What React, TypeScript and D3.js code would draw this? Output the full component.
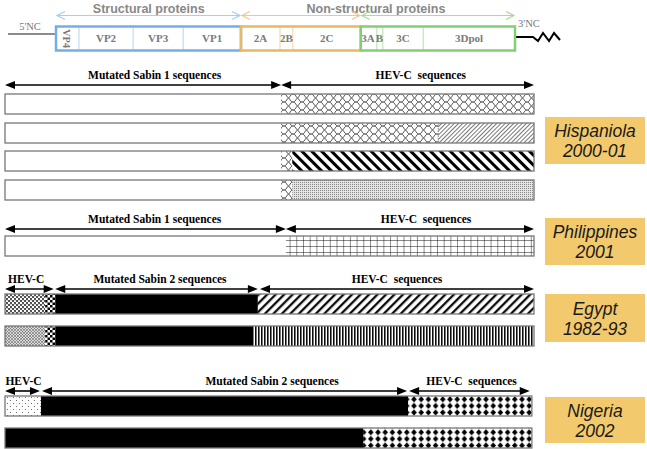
import React from "react";
import * as d3 from "d3";

// ---------- DATA ----------
// Genome map regions (percent of coding region)
const genomeRegions = [
  { name: "VP4", start: 0, end: 5.0, group: "S" },
  { name: "VP2", start: 5.0, end: 16.8, group: "S" },
  { name: "VP3", start: 16.8, end: 27.7, group: "S" },
  { name: "VP1", start: 27.7, end: 40.3, group: "S" },
  { name: "2A", start: 40.3, end: 48.8, group: "N" },
  { name: "2B", start: 48.8, end: 51.6, group: "N" },
  { name: "2C", start: 51.6, end: 66.4, group: "N" },
  { name: "3A", start: 66.4, end: 69.9, group: "G" },
  { name: "B", start: 69.9, end: 71.2, group: "G" },
  { name: "3C", start: 71.2, end: 80.0, group: "G" },
  { name: "3Dpol", start: 80.0, end: 100, group: "G" },
];
const genomeGroups = [
  { key: "S", start: 0, end: 40.3 },
  { key: "N", start: 40.3, end: 66.4 },
  { key: "G", start: 66.4, end: 100 },
];
const groupTitles = [
  { text: "Structural proteins", at: 20.2 },
  { text: "Non-structural proteins", at: 69.7 },
];
const groupColors: Record<string, { box: string; arrow: string; inner: string }> = {
  S: { box: "#74aee6", arrow: "#a9cdf0", inner: "#b5d3f0" },
  N: { box: "#e9b860", arrow: "#f0c78a", inner: "#f1d39a" },
  G: { box: "#84cf73", arrow: "#a8dc9c", inner: "#b3e0a8" },
};

// Recombinant genomes: segments (percent of genome length) and fill pattern
const rows = [
  { id: "h1", segs: [[0, 52.2, "white"], [52.2, 100, "wave"]] },
  { id: "h2", segs: [[0, 52.2, "white"], [52.2, 81.9, "wave"], [81.9, 100, "fineDiag"]] },
  { id: "h3", segs: [[0, 52.2, "white"], [52.2, 54.3, "wave"], [54.3, 100, "thickDiag"]] },
  { id: "h4", segs: [[0, 52.2, "white"], [52.2, 54.3, "wave"], [54.3, 100, "stipple"]] },
  { id: "p1", segs: [[0, 53.1, "white"], [53.1, 100, "grid"]] },
  { id: "e1", segs: [[0, 7.6, "dots"], [7.6, 9.5, "checker"], [9.5, 47.8, "black"], [47.8, 100, "fwdDiag"]] },
  { id: "e2", segs: [[0, 7.6, "crossFine"], [7.6, 9.5, "checker"], [9.5, 46.9, "black"], [46.9, 100, "vertical"]] },
  { id: "n1", segs: [[0, 6.8, "sparse"], [6.8, 76.2, "black"], [76.2, 99.6, "diamond"]] },
  { id: "n2", segs: [[0, 67.7, "black"], [67.7, 99.6, "diamond"]] },
];
const rowTops = [94, 123, 151, 180, 236, 294, 326, 396, 428];

// Annotation arrows over each outbreak block: [from, to, label, labelCenter]
const annotations = [
  { y: 85, spans: [[0, 52.2, "Mutated Sabin 1 sequences", 28.3], [52.2, 100, "HEV-C  sequences", 78.6]] },
  { y: 229, spans: [[0, 53.1, "Mutated Sabin 1 sequences", 28.3], [53.1, 100, "HEV-C  sequences", 79.6]] },
  { y: 289, spans: [[0, 9.2, "HEV-C", 4.0], [9.5, 47.8, "Mutated Sabin 2 sequences", 29.3], [48.2, 100, "HEV-C  sequences", 74.1]] },
  { y: 391, spans: [[0, 6.6, "HEV-C", 3.5], [7.0, 76.0, "Mutated Sabin 2 sequences", 50.5], [76.4, 99.2, "HEV-C  sequences", 88.2]] },
];

// Outbreak labels
const outbreaks = [
  { lines: ["Hispaniola", "2000-01"], top: 117, bottom: 164 },
  { lines: ["Philippines", "2001"], top: 218, bottom: 265 },
  { lines: ["Egypt", "1982-93"], top: 294, bottom: 342 },
  { lines: ["Nigeria", "2002"], top: 397, bottom: 443 },
];

// ---------- COMPONENT ----------
const W = 647;
const H = 449;

function Arrow({ x1, x2, y, color = "#000", open = false }: any) {
  const hl = 8, hw = 4;
  if (open) {
    return (
      <g stroke={color} fill="none" strokeWidth={1.2}>
        <line x1={x1} x2={x2} y1={y} y2={y} />
        <polyline points={`${x1 + hl},${y - hw} ${x1},${y} ${x1 + hl},${y + hw}`} />
        <polyline points={`${x2 - hl},${y - hw} ${x2},${y} ${x2 - hl},${y + hw}`} />
      </g>
    );
  }
  return (
    <g>
      <line x1={x1 + 4} x2={x2 - 4} y1={y} y2={y} stroke={color} strokeWidth={1.6} />
      <polygon points={`${x1},${y} ${x1 + hl + 2},${y - hw} ${x1 + hl + 2},${y + hw}`} fill={color} />
      <polygon points={`${x2},${y} ${x2 - hl - 2},${y - hw} ${x2 - hl - 2},${y + hw}`} fill={color} />
    </g>
  );
}

export default function App() {
  const gx = d3.scaleLinear().domain([0, 100]).range([56, 515]);
  const bx = d3.scaleLinear().domain([0, 100]).range([5, 534]);
  const barH = 20;
  const serif = "'Liberation Serif', 'Times New Roman', serif";
  const sans = "'Liberation Sans', Arial, sans-serif";

  const fillFor = (k: string) => (k === "white" ? "#fff" : k === "black" ? "#000" : `url(#p-${k})`);

  const zig = d3.line()([[515, 37], [533, 37], [538, 41], [543, 33], [549, 41], [554, 33], [560, 40]] as any);

  return (
    <svg width={W} height={H} style={{ position: "absolute", left: 0, top: 0, background: "#fff" }}>
      <defs>
        <pattern id="p-wave" patternUnits="userSpaceOnUse" width="9" height="8" x="5" y="94">
          <rect width="9" height="8" fill="#fff" />
          <path
            d="M0,0 C3,0 3,4 4.5,4 C6,4 6,8 9,8 M0,8 C3,8 3,4 4.5,4 C6,4 6,0 9,0"
            fill="none"
            stroke="#333"
            strokeWidth="0.8"
          />
        </pattern>
        <pattern id="p-fineDiag" patternUnits="userSpaceOnUse" width="3" height="3" patternTransform="rotate(45)">
          <rect width="3" height="3" fill="#fff" />
          <line x1="0.5" y1="0" x2="0.5" y2="3" stroke="#555" strokeWidth="0.8" />
        </pattern>
        <pattern id="p-thickDiag" patternUnits="userSpaceOnUse" width="7" height="7" patternTransform="rotate(-45)">
          <rect width="7" height="7" fill="#fff" />
          <line x1="1.5" y1="0" x2="1.5" y2="7" stroke="#000" strokeWidth="3" />
        </pattern>
        <pattern id="p-stipple" patternUnits="userSpaceOnUse" width="2" height="2">
          <rect width="2" height="2" fill="#e4e4e4" />
          <rect width="1" height="1" fill="#888" />
        </pattern>
        <pattern id="p-grid" patternUnits="userSpaceOnUse" width="6.7" height="6" x="1.5" y="0">
          <rect width="6.7" height="6" fill="#fff" />
          <path d="M0,0 V6 M0,0 H6.7" stroke="#000" strokeWidth="0.9" fill="none" />
        </pattern>
        <pattern id="p-dots" patternUnits="userSpaceOnUse" width="4" height="4">
          <rect width="4" height="4" fill="#fff" />
          <circle cx="1" cy="1" r="0.9" fill="#000" />
          <circle cx="3" cy="3" r="0.9" fill="#000" />
          <rect x="2.6" y="0.4" width="0.7" height="0.7" fill="#444" />
        </pattern>
        <pattern id="p-checker" patternUnits="userSpaceOnUse" width="5" height="5">
          <rect width="5" height="5" fill="#fff" />
          <rect width="2.5" height="2.5" fill="#000" />
          <rect x="2.5" y="2.5" width="2.5" height="2.5" fill="#000" />
        </pattern>
        <pattern id="p-fwdDiag" patternUnits="userSpaceOnUse" width="6" height="6" patternTransform="rotate(45)">
          <rect width="6" height="6" fill="#fff" />
          <line x1="1.2" y1="0" x2="1.2" y2="6" stroke="#000" strokeWidth="2.2" />
        </pattern>
        <pattern id="p-crossFine" patternUnits="userSpaceOnUse" width="3" height="3">
          <rect width="3" height="3" fill="#ddd" />
          <path d="M0,0 L3,3 M3,0 L0,3" stroke="#666" strokeWidth="0.6" />
        </pattern>
        <pattern id="p-vertical" patternUnits="userSpaceOnUse" width="3" height="3">
          <rect width="3" height="3" fill="#fff" />
          <line x1="0.8" y1="0" x2="0.8" y2="3" stroke="#000" strokeWidth="1.5" />
        </pattern>
        <pattern id="p-sparse" patternUnits="userSpaceOnUse" width="6" height="6">
          <rect width="6" height="6" fill="#fff" />
          <circle cx="1.5" cy="1.5" r="0.6" fill="#555" />
          <circle cx="4.5" cy="4.5" r="0.6" fill="#555" />
          <circle cx="4.5" cy="1.8" r="0.4" fill="#888" />
        </pattern>
        <pattern id="p-diamond" patternUnits="userSpaceOnUse" width="7.2" height="6.6" x="0" y="0">
          <rect width="7.2" height="6.6" fill="#fff" />
          <polygon points="3.6,0.3 6.4,3.3 3.6,6.3 0.8,3.3" fill="#000" />
        </pattern>
      </defs>

      {/* top titles */}
      {groupTitles.map((t) => (
        <text key={t.text} x={gx(t.at)} y={13} textAnchor="middle" fontFamily={sans} fontWeight="bold" fontSize={12.5} fill="#888">
          {t.text}
        </text>
      ))}
      {genomeGroups.map((g) => (
        <Arrow key={"a" + g.key} x1={gx(g.start) + 1} x2={gx(g.end) - 1} y={15.5} color={groupColors[g.key].arrow} open />
      ))}

      {/* 5'NC and 3'NC */}
      <line x1={8} x2={56} y1={34} y2={34} stroke="#666" strokeWidth={1.3} />
      <text x={30} y={30} textAnchor="middle" fontFamily={serif} fontSize={10.5} fill="#777">5'NC</text>
      <line x1={515} x2={533} y1={37} y2={37} stroke="#666" strokeWidth={1.1} />
      <path d={zig as string} fill="none" stroke="#000" strokeWidth={2} />
      <text x={518} y={27} fontFamily={serif} fontSize={10.5} fill="#777">3'NC</text>

      {/* genome boxes */}
      {genomeRegions.map((r, i) => {
        const next = genomeRegions[i + 1];
        const isBoundary = next && next.group !== r.group;
        return (
          <g key={r.name}>
            {next && !isBoundary && (
              <line x1={gx(r.end)} x2={gx(r.end)} y1={27} y2={50} stroke={groupColors[r.group].inner} strokeWidth={1} />
            )}
            {r.name === "VP4" ? (
              <text
                transform={`translate(${(gx(r.start) + gx(r.end)) / 2 - 4},${38.5}) rotate(90)`}
                textAnchor="middle"
                fontFamily={serif}
                fontWeight="bold"
                fontSize={10.5}
                fill="#7a7a7a"
              >
                VP4
              </text>
            ) : r.name === "3A" ? (
              <text x={gx(r.start) + 0.5} y={42} fontFamily={serif} fontWeight="bold" fontSize={11} fill="#7a7a7a">
                3A
              </text>
            ) : (
              <text
                x={r.name === "B" ? gx(r.start) + 2.5 : (gx(r.start) + gx(r.end)) / 2}
                y={42}
                textAnchor="middle"
                fontFamily={serif}
                fontWeight="bold"
                fontSize={11}
                fill="#7a7a7a"
              >
                {r.name}
              </text>
            )}
          </g>
        );
      })}
      {genomeGroups.map((g) => (
        <rect
          key={"b" + g.key}
          x={gx(g.start)}
          y={26.5}
          width={gx(g.end) - gx(g.start)}
          height={24}
          fill="none"
          stroke={groupColors[g.key].box}
          strokeWidth={2.5}
        />
      ))}

      {/* annotations */}
      {annotations.map((a, i) => (
        <g key={"ann" + i}>
          {a.spans.map((s: any, j: number) => (
            <g key={j}>
              <Arrow x1={bx(s[0])} x2={bx(s[1])} y={a.y} />
              <text
                x={bx(s[3])}
                y={a.y - 6}
                textAnchor="middle"
                fontFamily={serif}
                fontWeight="bold"
                fontSize={11.5}
                fill="#000"
                style={{ whiteSpace: "pre" }}
              >
                {s[2]}
              </text>
            </g>
          ))}
        </g>
      ))}

      {/* recombinant bars */}
      {rows.map((r, i) => {
        const y = rowTops[i];
        const end = r.segs[r.segs.length - 1][1] as number;
        return (
          <g key={r.id}>
            {r.segs.map((s: any, j: number) => (
              <rect key={j} x={bx(s[0])} y={y} width={bx(s[1]) - bx(s[0])} height={barH} fill={fillFor(s[2])} />
            ))}
            {r.segs.slice(1).map((s: any, j: number) =>
              r.id === "h2" && j === 1 ? (
                <line key={"d" + j} x1={bx(s[0])} x2={bx(s[0])} y1={y} y2={y + barH} stroke="#666" strokeWidth={0.8} strokeDasharray="1.5,1" />
              ) : null
            )}
            <rect x={bx(0)} y={y} width={bx(end) - bx(0)} height={barH} fill="none" stroke="#777" strokeWidth={1.3} />
          </g>
        );
      })}

      {/* outbreak labels */}
      {outbreaks.map((o, i) => {
        const cy = (o.top + o.bottom) / 2;
        return (
          <g key={"o" + i}>
            <rect x={545} y={o.top} width={100} height={o.bottom - o.top} fill="#f2c96c" />
            <text x={595} y={cy - 3.5} textAnchor="middle" fontFamily={sans} fontStyle="italic" fontSize={17.5} fill="#1a1a1a">
              {o.lines[0]}
            </text>
            <text x={595} y={cy + 16.5} textAnchor="middle" fontFamily={sans} fontStyle="italic" fontSize={17.5} fill="#1a1a1a">
              {o.lines[1]}
            </text>
          </g>
        );
      })}
    </svg>
  );
}
